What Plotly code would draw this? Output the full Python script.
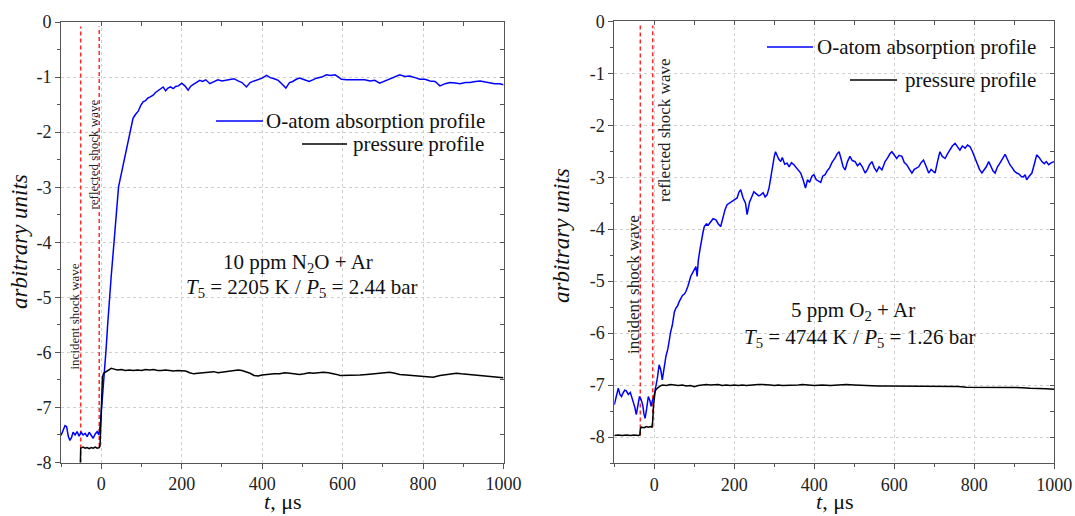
import plotly.graph_objects as go

# ---------------- data ----------------
# Left panel: 10 ppm N2O + Ar
L_abs_t = [-100, -95, -90, -86, -82, -78, -74, -70, -65, -60, -55, -50, -45, -40, -35, -30, -25, -20, -15, -10,
           -6, -4, -2, 0, 3, 6, 9, 12, 16, 20, 25, 29, 34, 38, 43, 48, 54, 60, 67, 73, 79, 85, 92, 98, 104, 110,
           116, 122, 129, 135, 141, 148, 154, 160, 166, 172, 179, 185, 192, 200, 208, 216, 222, 230, 238, 245,
           252, 260, 270, 280, 290, 300, 310, 320, 330, 340, 350, 361, 370, 380, 390, 400, 411, 420, 430, 440,
           450, 459, 468, 476, 485, 493, 505, 517, 526, 535, 548, 560, 570, 581, 590, 597, 610, 626, 640, 655,
           668, 680, 692, 705, 717, 730, 742, 755, 767, 780, 792, 805, 817, 830, 842, 855, 867, 880, 892, 905,
           917, 930, 942, 955, 966, 978, 991, 1000]
L_abs = [-7.51, -7.40, -7.33, -7.35, -7.52, -7.60, -7.55, -7.45, -7.50, -7.44, -7.52, -7.45, -7.50, -7.47, -7.53,
         -7.45, -7.50, -7.56, -7.48, -7.44, -7.50, -7.40, -7.30, -7.10, -6.85, -6.55, -6.30, -5.95, -5.50, -5.05,
         -4.60, -4.25, -3.75, -3.35, -3.00, -2.82, -2.62, -2.40, -2.20, -1.95, -1.75, -1.68, -1.62, -1.52, -1.45,
         -1.43, -1.38, -1.36, -1.33, -1.28, -1.25, -1.22, -1.18, -1.25, -1.20, -1.18, -1.21, -1.17, -1.16, -1.11,
         -1.16, -1.24, -1.17, -1.13, -1.10, -1.06, -1.08, -1.05, -1.12, -1.08, -1.05, -1.07, -1.06, -1.04, -1.03,
         -1.07, -1.10, -1.18, -1.10, -1.07, -1.05, -1.02, -0.97, -1.01, -1.03, -1.06, -1.13, -1.20, -1.10, -1.08,
         -1.04, -1.02, -1.05, -1.08, -1.05, -1.02, -1.00, -0.96, -0.97, -0.96, -1.00, -1.04, -1.05, -1.05, -1.06,
         -1.05, -1.07, -1.06, -1.11, -1.07, -1.04, -1.00, -0.96, -0.99, -0.98, -1.01, -1.04, -1.04, -1.07, -1.08,
         -1.16, -1.12, -1.10, -1.11, -1.12, -1.10, -1.10, -1.08, -1.07, -1.09, -1.11, -1.12, -1.12, -1.14]

L_p_t = [-52, -51, -45, -40, -35, -30, -25, -20, -15, -10, -5, -3, -1, 1, 3, 6, 10, 15, 20, 25, 30, 40, 50, 60,
         70, 80, 90, 100, 110, 120, 130, 140, 150, 160, 170, 180, 190, 200, 210, 220, 230, 240, 250, 260, 270,
         280, 290, 300, 310, 320, 330, 340, 350, 360, 370, 380, 390, 400, 410, 420, 430, 444, 456, 469, 481,
         493, 505, 517, 527, 540, 552, 565, 577, 585, 594, 610, 626, 643, 660, 676, 692, 705, 717, 730, 742,
         758, 775, 788, 800, 812, 825, 842, 858, 870, 883, 895, 908, 925, 942, 955, 966, 978, 991, 1000]
L_p = [-8.05, -7.74, -7.72, -7.74, -7.73, -7.75, -7.73, -7.74, -7.72, -7.74, -7.73, -7.70, -7.30, -6.80, -6.45,
       -6.38, -6.36, -6.33, -6.31, -6.29, -6.30, -6.32, -6.31, -6.33, -6.32, -6.33, -6.32, -6.33, -6.31, -6.32,
       -6.31, -6.33, -6.33, -6.32, -6.33, -6.34, -6.33, -6.33, -6.34, -6.37, -6.39, -6.38, -6.37, -6.36, -6.36,
       -6.35, -6.37, -6.36, -6.35, -6.34, -6.33, -6.32, -6.33, -6.35, -6.38, -6.42, -6.43, -6.41, -6.40, -6.39,
       -6.39, -6.39, -6.37, -6.38, -6.39, -6.40, -6.39, -6.37, -6.38, -6.37, -6.36, -6.37, -6.38, -6.40, -6.42,
       -6.42, -6.42, -6.41, -6.40, -6.39, -6.38, -6.37, -6.36, -6.38, -6.40, -6.41, -6.42, -6.43, -6.44, -6.44,
       -6.45, -6.42, -6.40, -6.39, -6.38, -6.39, -6.40, -6.41, -6.42, -6.43, -6.44, -6.45, -6.46, -6.46]

# Right panel: 5 ppm O2 + Ar
R_abs_t = [-100, -95, -90, -86, -82, -78, -74, -70, -65, -60, -57, -53, -49, -45, -41, -37, -33, -29, -26, -23,
           -19, -15, -11, -8, -5, -2, 1, 4, 8, 12, 16, 20, 24, 29, 34, 38, 41, 45, 50, 54, 58, 62, 66, 70, 75,
           79, 84, 88, 91, 95, 100, 104, 107, 110, 114, 118, 122, 125, 130, 135, 141, 147, 154, 160, 166, 172,
           177, 182, 190, 199, 207, 212, 216, 222, 228, 232, 238, 244, 249, 255, 261, 266, 272, 277, 282, 287,
           291, 296, 300, 303, 307, 311, 316, 320, 326, 332, 337, 343, 349, 355, 361, 366, 372, 378, 383, 388,
           394, 399, 405, 410, 416, 421, 427, 432, 438, 444, 449, 452, 457, 462, 467, 472, 477, 483, 489, 495,
           502, 508, 514, 520, 527, 533, 538, 544, 550, 556, 562, 569, 573, 577, 584, 589, 594, 600, 606, 612,
           619, 625, 631, 638, 644, 650, 656, 661, 667, 673, 680, 686, 692, 697, 702, 708, 714, 720, 727, 733,
           739, 745, 752, 758, 764, 770, 777, 783, 789, 795, 802, 808, 813, 819, 825, 830, 836, 842, 847, 852,
           858, 864, 870, 877, 883, 889, 895, 900, 906, 912, 918, 923, 927, 931, 937, 944, 950, 956, 962, 969,
           975, 980, 986, 993, 1000]
R_abs = [-7.38, -7.20, -7.06, -7.18, -7.22, -7.15, -7.10, -7.11, -7.18, -7.14, -7.22, -7.30, -7.42, -7.57, -7.40,
         -7.22, -7.28, -7.38, -7.55, -7.64, -7.45, -7.22, -7.30, -7.41, -7.30, -7.25, -7.15, -7.03, -6.85, -6.61,
         -6.70, -6.90, -6.70, -6.45, -6.30, -6.10, -5.97, -5.85, -5.60, -5.52, -5.48, -5.40, -5.33, -5.28, -5.25,
         -5.20, -5.10, -4.98, -4.91, -4.85, -4.76, -4.72, -4.91, -4.60, -4.40, -4.20, -4.05, -3.95, -3.90, -3.92,
         -3.85, -3.80, -3.82, -3.90, -3.95, -3.75, -3.62, -3.53, -3.48, -3.44, -3.40, -3.28, -3.24, -3.40, -3.50,
         -3.72, -3.48, -3.35, -3.28, -3.32, -3.36, -3.34, -3.30, -3.38, -3.34, -3.20, -2.99, -2.75, -2.60, -2.51,
         -2.58, -2.65, -2.70, -2.62, -2.75, -2.73, -2.80, -2.72, -2.76, -2.82, -2.88, -2.92, -3.05, -3.21, -3.05,
         -3.10, -2.98, -2.95, -3.05, -3.08, -3.10, -2.98, -2.95, -2.88, -2.82, -2.72, -2.67, -2.63, -2.55, -2.51,
         -2.65, -2.80, -2.86, -2.70, -2.60, -2.68, -2.70, -2.78, -2.73, -2.80, -2.92, -2.85, -2.76, -2.70, -2.82,
         -2.89, -2.80, -2.86, -2.78, -2.70, -2.62, -2.55, -2.51, -2.58, -2.64, -2.58, -2.60, -2.72, -2.76, -2.85,
         -2.92, -2.85, -2.82, -2.80, -2.72, -2.67, -2.80, -2.92, -2.85, -2.88, -2.92, -2.70, -2.51, -2.60, -2.64,
         -2.55, -2.48, -2.40, -2.35, -2.42, -2.48, -2.40, -2.44, -2.38, -2.41, -2.50, -2.64, -2.76, -2.85, -2.92,
         -2.85, -2.80, -2.70, -2.80, -2.88, -2.92, -2.80, -2.73, -2.64, -2.56, -2.66, -2.76, -2.82, -2.88, -2.92,
         -2.94, -2.99, -2.99, -2.95, -3.05, -2.98, -2.92, -2.75, -2.57, -2.62, -2.70, -2.74, -2.70, -2.76, -2.72,
         -2.70]

R_p_t = [-100, -90, -80, -70, -60, -50, -40, -36, -35, -33, -25, -20, -15, -10, -6, -4, -2, 0, 2, 5, 9, 14, 20,
         30, 40, 50, 60, 70, 80, 90, 100, 110, 120, 130, 140, 150, 160, 170, 180, 190, 200, 210, 220, 230, 240,
         250, 260, 270, 280, 290, 300, 310, 320, 330, 340, 350, 360, 370, 380, 390, 400, 420, 440, 460, 480,
         500, 520, 540, 560, 580, 600, 620, 640, 660, 680, 700, 720, 740, 760, 780, 800, 820, 840, 860, 880,
         900, 920, 940, 960, 980, 1000]
R_p = [-7.97, -7.96, -7.97, -7.96, -7.97, -7.96, -7.97, -7.96, -7.85, -7.81, -7.82, -7.80, -7.81, -7.80, -7.81,
       -7.70, -7.40, -7.20, -7.12, -7.08, -7.05, -7.02, -7.00, -7.01, -6.99, -7.00, -7.01, -7.00, -7.02, -7.01,
       -7.03, -7.01, -7.00, -6.99, -7.00, -7.00, -6.99, -7.01, -7.00, -7.01, -7.00, -7.01, -7.00, -7.01, -7.00,
       -7.00, -6.99, -6.99, -6.99, -7.00, -7.01, -7.00, -7.01, -7.01, -7.00, -7.00, -7.00, -6.99, -7.00, -7.00,
       -7.01, -7.00, -7.01, -7.00, -6.99, -7.00, -7.01, -7.01, -7.02, -7.02, -7.02, -7.02, -7.02, -7.03, -7.03,
       -7.03, -7.02, -7.03, -7.03, -7.04, -7.04, -7.04, -7.05, -7.04, -7.05, -7.05, -7.05, -7.06, -7.06, -7.07,
       -7.08]

# shock-wave marker lines: [incident, reflected]
L_shock_t = [-51, -5]
L_shock_bottom = [-8.0, -7.72]
R_shock_t = [-35, -4]
R_shock_bottom = [-7.97, -7.81]
shock_top = -0.08
shock_labels = ["incident shock wave", "reflected shock wave"]

x_tickvals = [0, 200, 400, 600, 800, 1000]
x_ticktext = ["0", "200", "400", "600", "800", "1000"]
L_y_tickvals = [0, -1, -2, -3, -4, -5, -6, -7, -8]
L_y_ticktext = ["0", "-1", "-2", "-3", "-4", "-5", "-6", "-7", "-8"]
R_y_tickvals = [0, -1, -2, -3, -4, -5, -6, -7, -8]
R_y_ticktext = ["0", "-1", "-2", "-3", "-4", "-5", "-6", "-7", "-8"]

legend_names = ["O-atom absorption profile", "pressure profile"]
L_info = ["10 ppm N<sub>2</sub>O + Ar", "<i>T</i><sub>5</sub> = 2205 K / <i>P</i><sub>5</sub> = 2.44 bar"]
R_info = ["5 ppm O<sub>2</sub> + Ar", "<i>T</i><sub>5</sub> = 4744 K / <i>P</i><sub>5</sub> = 1.26 bar"]

# ---------------- layout helpers ----------------
W, H = 1075, 516
FONT = "'Liberation Serif', 'Times New Roman', 'DejaVu Serif', serif"
def PX(p): return p / W
def PY(p): return 1 - p / H

BLUE = "#0000ff"
BLACK = "#000000"
RED = "#ff2a2a"
GRID = "#cfcfcf"
AXC = "#555555"

fig = go.Figure()

# shock lines (drawn first, under data)
for xa, ya, ts, bots in [("x", "y", L_shock_t, L_shock_bottom), ("x2", "y2", R_shock_t, R_shock_bottom)]:
    for t, b in zip(ts, bots):
        fig.add_trace(go.Scatter(x=[t, t], y=[b, shock_top], mode="lines", xaxis=xa, yaxis=ya,
                                 line=dict(color=RED, width=1.5, dash="4px,3px"),
                                 showlegend=False, hoverinfo="skip"))

fig.add_trace(go.Scatter(x=L_abs_t, y=L_abs, mode="lines", line=dict(color=BLUE, width=1.5),
                         xaxis="x", yaxis="y", showlegend=False))
fig.add_trace(go.Scatter(x=L_p_t, y=L_p, mode="lines", line=dict(color=BLACK, width=1.5),
                         xaxis="x", yaxis="y", showlegend=False))
fig.add_trace(go.Scatter(x=R_abs_t, y=R_abs, mode="lines", line=dict(color=BLUE, width=1.5),
                         xaxis="x2", yaxis="y2", showlegend=False))
fig.add_trace(go.Scatter(x=R_p_t, y=R_p, mode="lines", line=dict(color=BLACK, width=1.5),
                         xaxis="x2", yaxis="y2", showlegend=False))

# empty traces to activate mirror (inside-tick) axes
for xa, ya in [("x3", "y"), ("x", "y3"), ("x4", "y2"), ("x2", "y4")]:
    fig.add_trace(go.Scatter(x=[None], y=[None], xaxis=xa, yaxis=ya, showlegend=False, hoverinfo="skip"))

tickfont = dict(family=FONT, size=18, color="#222222")

def xmain(domain, anchor):
    return dict(domain=domain, anchor=anchor, range=[-100, 1000], tickmode="array", automargin=False,
                tickvals=x_tickvals, ticktext=x_ticktext, ticks="outside", ticklen=5, tickcolor=AXC,
                showline=True, linecolor=AXC, linewidth=1, mirror=True, showgrid=True, gridcolor=GRID,
                griddash="dot", gridwidth=1, zeroline=False, tickfont=tickfont,
                minor=dict(tickvals=[-100, 100, 300, 500, 700, 900], ticks="outside", ticklen=3,
                           tickcolor=AXC, showgrid=False))

def ymain(domain, anchor, rng, tv, tt):
    return dict(domain=domain, anchor=anchor, range=rng, tickmode="array", tickvals=tv, ticktext=tt,
                automargin=False,
                ticks="outside", ticklen=5, tickcolor=AXC, showline=True, linecolor=AXC, linewidth=1,
                mirror=True, showgrid=True, gridcolor=GRID, griddash="dot", gridwidth=1, zeroline=False,
                tickfont=tickfont,
                minor=dict(dtick=0.5, tick0=0, ticks="outside", ticklen=3, tickcolor=AXC, showgrid=False))

def xtop(over, anchor):
    return dict(overlaying=over, anchor=anchor, side="top", range=[-100, 1000], dtick=100, tick0=0,
                ticks="inside", ticklen=4, tickcolor=AXC, showticklabels=False, showgrid=False,
                zeroline=False, showline=False, automargin=False)

def yright(over, anchor, rng):
    return dict(overlaying=over, anchor=anchor, side="right", range=rng, dtick=0.5, tick0=0,
                ticks="inside", ticklen=4, tickcolor=AXC, showticklabels=False, showgrid=False,
                zeroline=False, showline=False, automargin=False)

Ldx = [PX(61), PX(503.5)]
Ldy = [PY(462.5), PY(22)]
Rdx = [PX(614.3), PX(1054.3)]
Rdy = [PY(463), PY(21.3)]

fig.update_layout(
    width=W, height=H, margin=dict(l=0, r=0, t=0, b=0, autoexpand=False),
    paper_bgcolor="white", plot_bgcolor="white",
    font=dict(family=FONT, color="#111111"),
    xaxis=xmain(Ldx, "y"), yaxis=ymain(Ldy, "x", [-8, 0], L_y_tickvals, L_y_ticktext),
    xaxis2=xmain(Rdx, "y2"), yaxis2=ymain(Rdy, "x2", [-8.5, 0], R_y_tickvals, R_y_ticktext),
    xaxis3=xtop("x", "y"), yaxis3=yright("y", "x", [-8, 0]),
    xaxis4=xtop("x2", "y2"), yaxis4=yright("y2", "x2", [-8.5, 0]),
)

ann = []
shapes = []

def add_text(xc, yc, text, size, angle=0, xanchor="center", color="#111"):
    ann.append(dict(x=PX(xc), y=PY(yc), xref="paper", yref="paper", text=text, textangle=angle,
                    xanchor=xanchor, yanchor="middle", showarrow=False,
                    font=dict(family=FONT, size=size, color=color)))

# axis titles
for xc, yc in [(20, 242), (562, 236)]:
    add_text(xc, yc, "<i>arbitrary units</i>", 23, angle=-90)
for xc in [282, 834]:
    add_text(xc, 501, "<i>t</i>, μs", 22)

# shock labels
for (xc, yc), txt, sz in [((73.5, 317), shock_labels[0], 13), ((92.5, 155), shock_labels[1], 13),
                          ((633, 284), shock_labels[0], 17), ((664, 130), shock_labels[1], 17)]:
    add_text(xc, yc, txt, sz, angle=-90, color="#222")

# legends (line sample + right-aligned text)
for (lx0, lx1, ly, tx), col, name in [((216, 263, 121, 487), BLUE, legend_names[0]),
                                     ((302, 347, 144, 486), BLACK, legend_names[1]),
                                     ((767, 813, 47, 1038), BLUE, legend_names[0]),
                                     ((850, 897, 80, 1038), BLACK, legend_names[1])]:
    shapes.append(dict(type="line", xref="paper", yref="paper", x0=PX(lx0), x1=PX(lx1), y0=PY(ly), y1=PY(ly),
                       line=dict(color=col, width=1.5)))
    add_text(tx, ly, name, 21, xanchor="right")

# conditions text
for (xc, yc), txt in [((298, 263), L_info[0]), ((301, 288), L_info[1]),
                      ((853, 311), R_info[0]), ((859, 338), R_info[1])]:
    add_text(xc, yc, txt, 21)

fig.update_layout(annotations=ann, shapes=shapes)
fig.write_html("out.html")
